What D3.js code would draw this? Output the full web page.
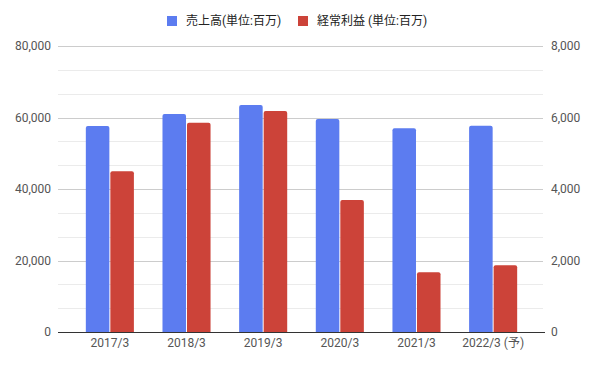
<!DOCTYPE html>
<html>
<head>
<meta charset="utf-8">
<script src="https://cdn.jsdelivr.net/npm/d3@7"></script>
<style>
  body { margin: 0; background: #fff; }
  text { font-family: Roboto, "Noto Sans CJK JP", sans-serif; }
</style>
</head>
<body>
<div id="chart"></div>
<script>
// Data
const years = ["2017/3", "2018/3", "2019/3", "2020/3", "2021/3", "2022/3 (予)"];
const sales = [57600, 61000, 63500, 59600, 57000, 57700];       // 売上高, left axis
const profit = [4500, 5850, 6180, 3690, 1670, 1870];             // 経常利益, right axis
const leftTicks = [0, 20000, 40000, 60000, 80000];
const rightTicks = [0, 2000, 4000, 6000, 8000];
const seriesNames = ["売上高(単位:百万)", "経常利益 (単位:百万)"];

// Dimensions
const width = 596;
const height = 368;
const margin = { top: 46, right: 53, bottom: 36, left: 58 };

const svg = d3.select("#chart").append("svg")
  .attr("width", width)
  .attr("height", height);

const colors = ["#5c7cf0", "#cc4339"];

// Scales
const x0 = d3.scaleBand()
  .domain(years)
  .range([margin.left + 1, width - margin.right + 1])
  .paddingInner(0.373)
  .paddingOuter(0.35);

const x1 = d3.scaleBand()
  .domain([0, 1])
  .range([0, x0.bandwidth()])
  .paddingInner(0.04);

const yLeft = d3.scaleLinear()
  .domain([0, 80000])
  .range([height - margin.bottom, margin.top]);

const yRight = d3.scaleLinear()
  .domain([0, 8000])
  .range([height - margin.bottom, margin.top]);

// Minor gridlines (3 per major step)
const minor = d3.range(0, 80001, 20000 / 3);
svg.append("g")
  .selectAll("line")
  .data(minor)
  .enter()
  .append("line")
    .attr("x1", margin.left)
    .attr("x2", width - margin.right)
    .attr("y1", d => Math.round(yLeft(d)) + 0.5)
    .attr("y2", d => Math.round(yLeft(d)) + 0.5)
    .attr("stroke", "#ebebeb");

// Major gridlines
svg.append("g")
  .selectAll("line")
  .data(leftTicks.slice(1))
  .enter()
  .append("line")
    .attr("x1", margin.left)
    .attr("x2", width - margin.right)
    .attr("y1", d => Math.round(yLeft(d)) + 0.5)
    .attr("y2", d => Math.round(yLeft(d)) + 0.5)
    .attr("stroke", "#cccccc");

// Left axis labels
const fmt = d3.format(",");
svg.append("g")
  .attr("transform", `translate(${margin.left - 4}, 0)`)
  .call(d3.axisLeft(yLeft).tickValues(leftTicks).tickFormat(fmt).tickSize(0))
  .call(g => g.select(".domain").remove())
  .selectAll("text")
    .attr("fill", "#555")
    .attr("font-size", 12)
    .attr("font-family", "Roboto, sans-serif");

// Right axis labels
svg.append("g")
  .attr("transform", `translate(${width - margin.right + 5}, 0)`)
  .call(d3.axisRight(yRight).tickValues(rightTicks).tickFormat(fmt).tickSize(0))
  .call(g => g.select(".domain").remove())
  .selectAll("text")
    .attr("fill", "#555")
    .attr("font-size", 12)
    .attr("font-family", "Roboto, sans-serif");

// Bars
const rows = years.map((y, i) => ({ year: y, vals: [sales[i], profit[i]] }));
const gYear = svg.append("g")
  .selectAll("g")
  .data(rows)
  .enter()
  .append("g")
    .attr("transform", d => `translate(${x0(d.year)},0)`);

gYear.selectAll("path")
  .data(d => d.vals.map((v, k) => ({ k, v })))
  .enter()
  .append("path")
    .attr("fill", d => colors[d.k])
    .attr("d", d => {
      const sc = d.k === 0 ? yLeft : yRight;
      const bx = x1(d.k), bw = x1.bandwidth();
      const top = sc(d.v), bot = sc(0), r = 2;
      return `M${bx},${bot}V${top + r}Q${bx},${top} ${bx + r},${top}H${bx + bw - r}Q${bx + bw},${top} ${bx + bw},${top + r}V${bot}Z`;
    });

// Baseline
svg.append("line")
  .attr("x1", margin.left)
  .attr("x2", width - margin.right + 2)
  .attr("y1", yLeft(0) + 0.5)
  .attr("y2", yLeft(0) + 0.5)
  .attr("stroke", "#333");

// X axis labels
svg.append("g")
  .attr("transform", `translate(0, ${height - margin.bottom + 3})`)
  .call(d3.axisBottom(x0).tickSize(0))
  .call(g => g.select(".domain").remove())
  .selectAll("text")
    .attr("fill", "#555")
    .attr("font-size", 12)
    .attr("font-family", "Roboto, 'Noto Sans CJK JP', sans-serif");

// Legend
const legendX = [167, 298];
const legend = svg.append("g");
seriesNames.forEach((name, i) => {
  legend.append("rect")
    .attr("x", legendX[i])
    .attr("y", 16)
    .attr("width", 10)
    .attr("height", 10)
    .attr("fill", colors[i]);
  legend.append("text")
    .attr("x", legendX[i] + 19)
    .attr("y", 21)
    .attr("dominant-baseline", "central")
    .attr("font-size", 12)
    .attr("fill", "#222")
    .text(name);
});
</script>
</body>
</html>
